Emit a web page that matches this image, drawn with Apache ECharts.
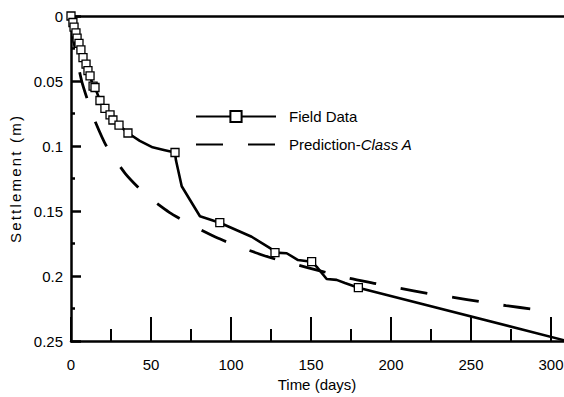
<!DOCTYPE html>
<html>
<head>
<meta charset="utf-8">
<script src="https://cdn.jsdelivr.net/npm/echarts@6/dist/echarts.min.js"></script>
<style>
  html, body { margin: 0; padding: 0; background: #fff; }
  #chart { width: 564px; height: 397px; }
</style>
</head>
<body>
<div id="chart"></div>
<script>
// Field settlement record: time (days), settlement (m), 1 = surveyed point (square marker)
const fieldTime = [0, 1.2, 1.9, 3.1, 3.8, 5.0, 6.2, 7.5, 9.4, 10.6, 11.9, 13.8, 15.0, 18.1, 21.2, 24.4, 26.2, 30.0, 35.6,
  43, 51, 58, 65, 65.6, 69.2, 74.4, 80.6, 93, 112.9, 124.4, 127.5, 134.8, 141.9, 150.4, 153.6, 159.8, 166, 171.2, 179.6, 310];
const fieldSettlement = [0, 0.005, 0.0085, 0.013, 0.017, 0.021, 0.026, 0.032, 0.037, 0.042, 0.046, 0.054, 0.055, 0.065, 0.071, 0.076, 0.080, 0.084, 0.090,
  0.096, 0.101, 0.103, 0.105, 0.111, 0.131, 0.1415, 0.154, 0.159, 0.1698, 0.1785, 0.182, 0.1825, 0.1877, 0.189, 0.193, 0.2023, 0.203, 0.2054, 0.209, 0.25];
const fieldMeasured = [1, 1, 1, 1, 1, 1, 1, 1, 1, 1, 1, 1, 1, 1, 1, 1, 1, 1, 1,
  0, 0, 0, 1, 0, 0, 0, 0, 1, 0, 0, 1, 0, 0, 1, 0, 0, 0, 0, 1, 0];

// Class A prediction curve
const predTime = [0, 1, 2.5, 4.5, 7.1, 13.9, 22.3, 33.8, 46.3, 61.4, 76.4, 92, 107.7, 123.9, 140, 155.6, 172.7, 189.4, 205.6, 222.7, 239, 256, 271.9, 289.4, 300];
const predSettlement = [0, 0.012, 0.025, 0.038, 0.052, 0.0775, 0.1005, 0.121, 0.137, 0.151, 0.1615, 0.171, 0.1787, 0.1856, 0.191, 0.196, 0.2015, 0.2056, 0.2095, 0.2133, 0.2164, 0.2198, 0.2228, 0.2256, 0.2272];

// Axis ticks and labels (time axis runs on past the right edge of the page)
const xMajorTicks = [0, 50, 100, 150, 200, 250, 300];

const FONT = "'Liberation Sans', Arial, sans-serif";
const INK = '#000';

const chart = echarts.init(document.getElementById('chart'), null, { renderer: 'svg' });

const fieldData = fieldTime.map((t, i) => ({
  value: [t, fieldSettlement[i]],
  symbol: fieldMeasured[i] ? 'rect' : 'none'
}));
const predData = predTime.map((t, i) => [t, predSettlement[i]]);

chart.setOption({
  animation: false,
  backgroundColor: '#fff',
  textStyle: { fontFamily: FONT, color: INK },
  grid: { left: 71, top: 16, width: 520, height: 325, outerBoundsMode: 'none' },
  legend: {
    orient: 'vertical',
    left: 190,
    top: 104,
    itemWidth: 80,
    itemHeight: 14,
    itemGap: 13,
    selectedMode: false,
    textStyle: {
      fontFamily: FONT, fontSize: 15, color: INK,
      rich: {
        n: { fontFamily: FONT, fontSize: 15, color: INK, padding: [0, 0, 0, 8] },
        i: { fontFamily: FONT, fontSize: 15, color: INK, fontStyle: 'italic' }
      }
    },
    formatter: name => name === 'Prediction-Class A' ? '{n|Prediction-}{i|Class A}' : '{n|' + name + '}',
    data: [
      { name: 'Field Data' },
      { name: 'Prediction-Class A', itemStyle: { opacity: 0 }, lineStyle: { dashOffset: 0, opacity: 1 } }
    ]
  },
  xAxis: [
    {
      type: 'value', position: 'bottom', min: 0, max: 325, interval: 50,
      name: 'Time (days)', nameLocation: 'middle', nameGap: 33,
      nameTextStyle: { fontFamily: FONT, fontSize: 15, color: INK, padding: [0, 28, 0, 0] },
      axisLine: { show: true, onZero: false, lineStyle: { color: INK, width: 2.5 } },
      axisTick: { show: true, inside: true, length: 24, customValues: xMajorTicks, lineStyle: { color: INK, width: 2 } },
      minorTick: { show: true, splitNumber: 2, length: 12, lineStyle: { color: INK, width: 2 } },
      axisLabel: { show: true, margin: 16, customValues: xMajorTicks, fontFamily: FONT, fontSize: 15, color: INK },
      splitLine: { show: false },
      minorSplitLine: { show: false }
    },
    {
      type: 'value', position: 'top', min: 0, max: 325,
      axisLine: { show: true, onZero: false, lineStyle: { color: INK, width: 2.5 } },
      axisTick: { show: false },
      axisLabel: { show: false },
      splitLine: { show: false }
    }
  ],
  yAxis: {
    type: 'value', inverse: true, min: 0, max: 0.25, interval: 0.05,
    name: 'Settlement (m)', nameLocation: 'middle', nameGap: 46,
    nameTextStyle: { fontFamily: FONT, fontSize: 15, color: INK },
    axisLine: { show: true, onZero: false, lineStyle: { color: INK, width: 2.5 } },
    axisTick: { show: true, inside: true, length: 10, lineStyle: { color: INK, width: 2.5 } },
    minorTick: { show: true, splitNumber: 2, length: 4, lineStyle: { color: INK, width: 2.5 } },
    axisLabel: { show: true, margin: 8, fontFamily: FONT, fontSize: 15, color: INK },
    splitLine: { show: false },
    minorSplitLine: { show: false }
  },
  series: [
    {
      name: 'Prediction-Class A',
      type: 'line',
      xAxisIndex: 0,
      data: predData,
      smooth: 0.2,
      symbol: 'none',
      lineStyle: { color: INK, width: 2.8, type: [27, 25], dashOffset: 47 },
      itemStyle: { color: INK },
      emphasis: { disabled: true },
      z: 2
    },
    {
      name: 'Field Data',
      type: 'line',
      xAxisIndex: 0,
      data: fieldData,
      symbol: 'rect',
      symbolSize: 8,
      showAllSymbol: true,
      lineStyle: { color: INK, width: 2.6 },
      itemStyle: { color: '#fff', borderColor: INK, borderWidth: 1.3 },
      emphasis: { disabled: true },
      z: 3
    }
  ]
});

// Spread the letters of the vertical axis title
function spaceAxisTitle() {
  document.querySelectorAll('#chart svg text').forEach(el => {
    if (el.textContent === 'Settlement (m)') el.setAttribute('letter-spacing', '2.2');
  });
}
chart.on('finished', spaceAxisTitle);
spaceAxisTitle();
</script>
</body>
</html>
